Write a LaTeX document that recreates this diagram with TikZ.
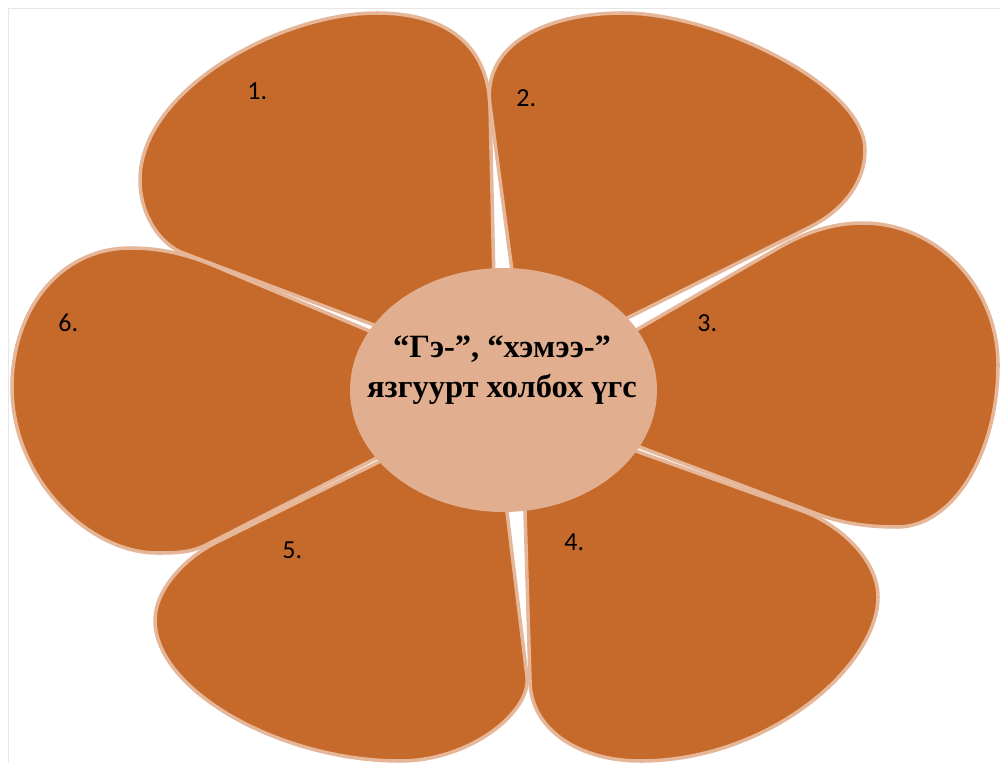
\documentclass[tikz,border=0pt]{standalone}
\usepackage{fontspec}
\usetikzlibrary{shapes.geometric}
\setmainfont{Liberation Serif}
\newfontfamily\numfont{Carlito}
\definecolor{petalfill}{HTML}{C66A2C}
\definecolor{petalline}{HTML}{E6B698}
\definecolor{centerfill}{HTML}{E1AF8F}
\definecolor{framegray}{HTML}{E6E6E6}
\tikzset{
  petal/.style={fill=petalfill, draw=petalline, line width=2pt, line join=round},
  numlabel/.style={anchor=base west, inner sep=0pt, font=\numfont\fontsize{14.8}{17}\selectfont},
  centertext/.style={align=center, inner sep=0pt, font=\bfseries\fontsize{18.5}{22.8}\selectfont}
}
\begin{document}
\begin{tikzpicture}[x=0.02cm, y=-0.02cm]
\useasboundingbox (0,0) rectangle (1000,763);
% frame
\draw[framegray, line width=0.85pt] (8.5,763) -- (8.5,8.5) -- (1000,8.5);
% petal 6
\draw[petal] (510,390) -- (210,264) .. controls (185,254) and (160,248) .. (130,248)
  .. controls (60,248) and (12,310) .. (12,387)
  .. controls (12,480) and (90,553) .. (157,553)
  .. controls (172,553) and (190,553) .. (205,545.5) -- cycle;
% petal 1
\draw[petal] (496,371) -- (490,105) .. controls (487,40) and (440,13) .. (377,13)
  .. controls (280,13) and (140,90) .. (140,180)
  .. controls (140,215) and (160,244) .. (183,253) -- cycle;
% petal 2
\draw[petal] (525,369) -- (490,105) .. controls (482,45) and (545,13) .. (623,13)
  .. controls (715,13) and (865,85) .. (865,150)
  .. controls (865,185) and (840,212) .. (810,227) -- cycle;
% petal 3
\draw[petal] (515,400) -- (780,247) .. controls (808,231) and (835,223) .. (863,223)
  .. controls (935,223) and (998,285) .. (998,365)
  .. controls (998,450) and (955,527) .. (897,527)
  .. controls (870,527) and (845,524) .. (820,515) -- cycle;
% petal 4
\draw[petal] (522,410) -- (800,510) .. controls (840,524) and (878,560) .. (878,597)
  .. controls (878,665) and (770,761) .. (640,761)
  .. controls (580,761) and (530,730) .. (530,680) -- cycle;
% petal 5
\draw[petal] (494,405) -- (527,677) .. controls (531,712) and (470,761) .. (400,761)
  .. controls (280,761) and (155,690) .. (155,620)
  .. controls (155,590) and (185,558) .. (215,543) -- cycle;
% centre
\node[ellipse, fill=centerfill, minimum width=6.14cm, minimum height=4.88cm, inner sep=0pt] (centre) at (503.5,390) {};
\node[centertext] (title) at (502,370) {“Гэ-”, “хэмээ-”\\язгуурт холбох үгс};
% labels
\node[numlabel] (n1) at (247,100) {1.};
\node[numlabel] (n2) at (516,107) {2.};
\node[numlabel] (n3) at (697,332) {3.};
\node[numlabel] (n4) at (564,550) {4.};
\node[numlabel] (n5) at (282,558) {5.};
\node[numlabel] (n6) at (58,332) {6.};
\end{tikzpicture}
\end{document}
